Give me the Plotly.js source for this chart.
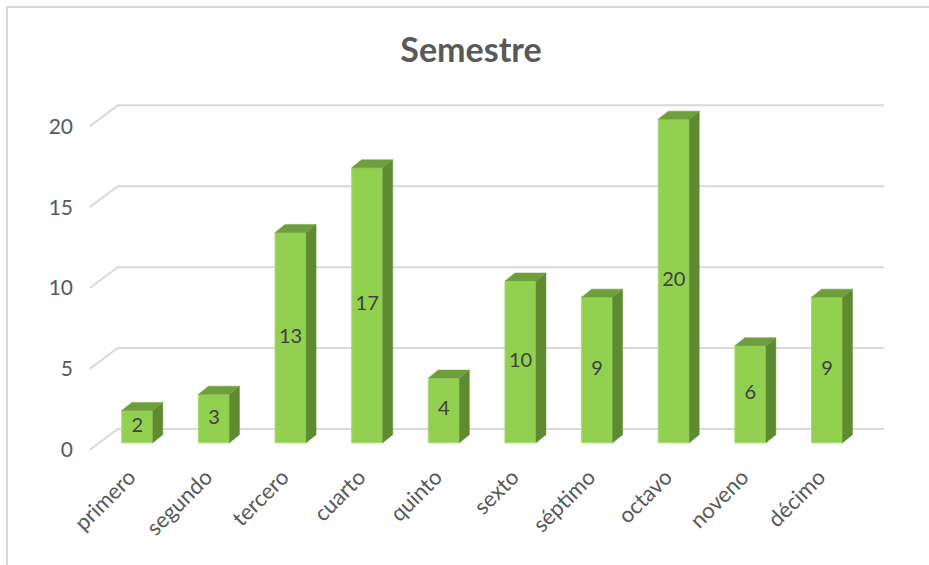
<!DOCTYPE html>
<html>
<head>
<meta charset="utf-8">
<script src="https://cdn.plot.ly/plotly-3.0.1.min.js"></script>
<style>
  html, body { margin: 0; padding: 0; background: #fff; }
  #wrap { position: relative; width: 929px; height: 565px; }
  #chart { position: absolute; left: 0; top: 0; width: 929px; height: 565px; }
  #frame { position: absolute; left: 6px; top: 6px; width: 940px; height: 580px;
           border-left: 2px solid #d9d9d9; border-top: 2px solid #d9d9d9; pointer-events: none; }
</style>
</head>
<body>
<div id="wrap">
  <div id="chart"></div>
  <div id="frame"></div>
</div>
<script>
// ---- data ----
const categories = ['primero', 'segundo', 'tercero', 'cuarto', 'quinto', 'sexto', 'séptimo', 'octavo', 'noveno', 'décimo'];
const values = [2, 3, 13, 17, 4, 10, 9, 20, 6, 9];
const yTicks = [0, 5, 10, 15, 20];
const yTickText = ['0', '5', '10', '15', '20'];

// ---- 3D look (style constants, in axis units) ----
const barW = 0.405;      // front face width
const depthX = 0.13;     // side depth in x
const depthY = 0.5;      // side depth in y
const gridFrontX = -0.62, gridBackX0 = -0.255, gridBackX1 = 9.745;
const gridFrontOff = -0.43, gridBackOff = 0.86;

const xIdx = categories.map((_, i) => i);

// back wall gridlines with diagonal side edge
const gx = [], gy = [];
yTicks.forEach(k => {
  gx.push(gridFrontX, gridBackX0, gridBackX1, null);
  gy.push(k + gridFrontOff, k + gridBackOff, k + gridBackOff, null);
});

// front, side and top faces
const fx = [], fy = [], sx = [], sy = [], tx = [], ty = [];
values.forEach((v, i) => {
  const l = i - barW / 2, r = i + barW / 2;
  fx.push(l, r, r, l, l, null);
  fy.push(0, 0, v, v, 0, null);
  sx.push(r, r + depthX, r + depthX, r, r, null);
  sy.push(0, depthY, v + depthY, v, 0, null);
  tx.push(l, l + depthX, r + depthX, r, l, null);
  ty.push(v, v + depthY, v + depthY, v, v, null);
});

const font = 'Lato, "Open Sans", sans-serif';

const traces = [
  { type: 'scatter', mode: 'lines', x: gx, y: gy, line: { color: '#d9d9d9', width: 2 },
    hoverinfo: 'skip', showlegend: false, connectgaps: false },
  { type: 'scatter', mode: 'lines', x: fx, y: fy, fill: 'toself', fillcolor: '#92d050',
    line: { color: '#a6da74', width: 1 }, hoverinfo: 'skip', showlegend: false, connectgaps: false },
  { type: 'scatter', mode: 'lines', x: sx, y: sy, fill: 'toself', fillcolor: '#5f8b30',
    line: { color: '#5f8b30', width: 0.5 }, hoverinfo: 'skip', showlegend: false, connectgaps: false },
  { type: 'scatter', mode: 'lines', x: tx, y: ty, fill: 'toself', fillcolor: '#6f9f3c',
    line: { color: '#6f9f3c', width: 0.5 }, hoverinfo: 'skip', showlegend: false, connectgaps: false },
  { type: 'scatter', mode: 'text', x: xIdx, y: values.map(v => v / 2), text: values.map(String),
    textposition: 'middle center', textfont: { family: font, size: 20, color: '#404040' },
    hoverinfo: 'skip', showlegend: false }
];

const layout = {
  width: 929, height: 565,
  margin: { l: 76, r: 33, t: 95, b: 106 },
  paper_bgcolor: '#ffffff', plot_bgcolor: '#ffffff',
  title: { text: 'Semestre', x: 0.507, xanchor: 'center', y: 0.912, yanchor: 'middle',
           font: { family: font, size: 34, color: '#595959', weight: 'bold' } },
  xaxis: { range: [-0.8, 9.9], tickvals: xIdx, ticktext: categories, tickangle: -45,
           showgrid: false, zeroline: false, showline: false, ticks: '',
           ticklabelshift: -8,
           tickfont: { family: font, size: 22, color: '#595959' }, fixedrange: true },
  yaxis: { range: [-1, 21.5], tickvals: yTicks, ticktext: yTickText,
           showgrid: false, zeroline: false, showline: false, ticks: '',
           ticklabelshift: 7, ticklabelstandoff: 2,
           tickfont: { family: font, size: 21, color: '#595959' }, fixedrange: true }
};

Plotly.newPlot('chart', traces, layout, { displayModeBar: false, staticPlot: true });
</script>
</body>
</html>
